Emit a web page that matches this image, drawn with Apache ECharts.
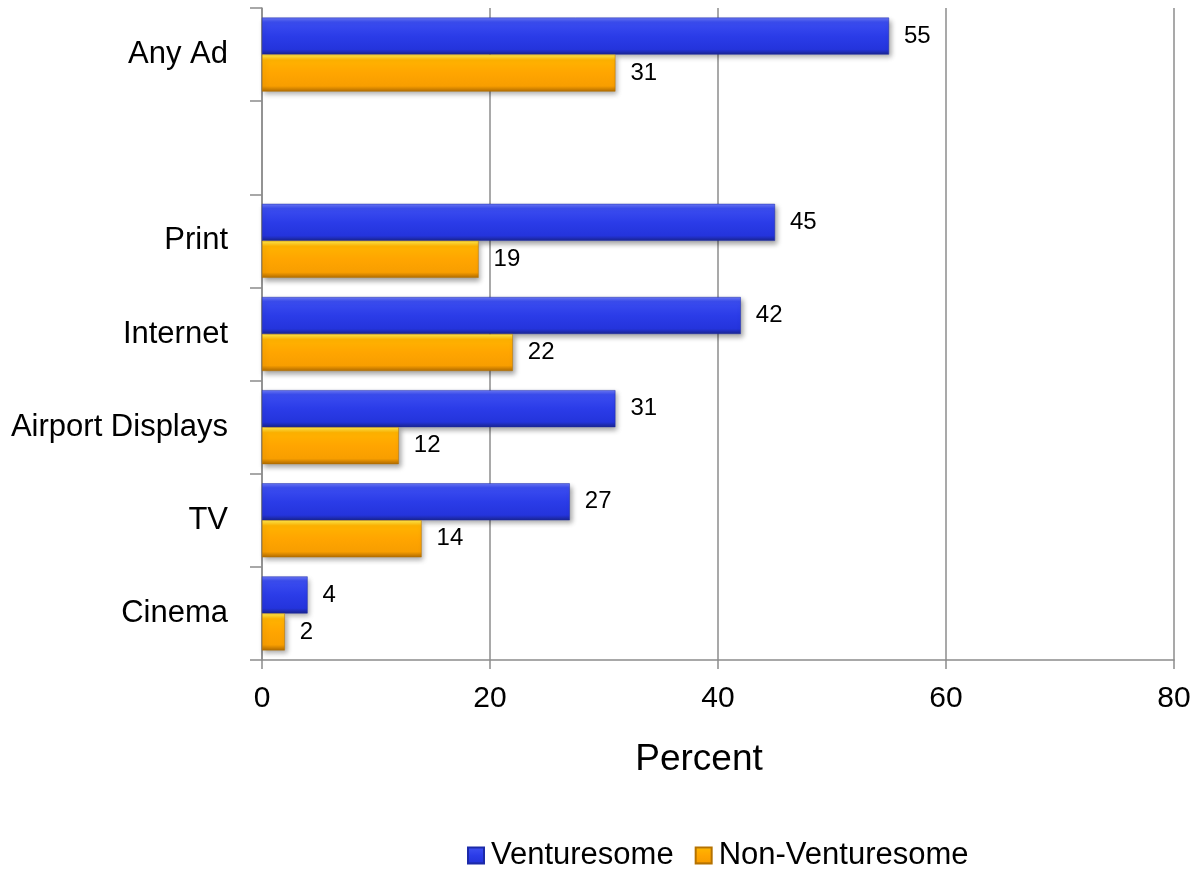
<!DOCTYPE html>
<html>
<head>
<meta charset="utf-8">
<script src="https://cdn.jsdelivr.net/npm/echarts@6/dist/echarts.min.js"></script>
<style>
  html, body { margin: 0; padding: 0; background: #fff; }
  #chart { width: 1196px; height: 869px; }
</style>
</head>
<body>
<div id="chart"></div>
<script>
// Ad media categories (blank row separates the summary from the breakdown)
const categories = ['Any Ad', '', 'Print', 'Internet', 'Airport Displays', 'TV', 'Cinema'];
const venturesome = [55, null, 45, 42, 31, 27, 4];
const nonVenturesome = [31, null, 19, 22, 12, 14, 2];
const xTicks = [0, 20, 40, 60, 80];

const FONT = 'Liberation Sans, Arial, sans-serif';

const chart = echarts.init(document.getElementById('chart'));

function bevel(stops) {
  return new echarts.graphic.LinearGradient(0, 0, 0, 1,
    stops.map(([offset, color]) => ({ offset, color })));
}

const blueFill = bevel([[0, '#6a79f6'], [0.12, '#3b4df0'], [0.5, '#2b3ce8'], [0.86, '#2434dc'], [1, '#1a258f']]);
const orangeFill = bevel([[0, '#ffe94d'], [0.15, '#ffb300'], [0.5, '#ffa500'], [0.85, '#f89e00'], [1, '#b06b00']]);

const shadow = {
  shadowColor: 'rgba(0,0,0,0.35)',
  shadowBlur: 5,
  shadowOffsetX: 2,
  shadowOffsetY: 3
};

const valueLabel = {
  show: true,
  position: 'right',
  distance: 15,
  color: '#000',
  fontFamily: FONT,
  fontSize: 24
};

chart.setOption({
  animation: false,
  backgroundColor: '#fff',
  grid: { left: 262, right: 22, top: 8, bottom: 209, containLabel: false },
  xAxis: {
    type: 'value',
    min: xTicks[0],
    max: xTicks[xTicks.length - 1],
    interval: 20,
    name: 'Percent',
    nameLocation: 'middle',
    nameGap: 81,
    nameTextStyle: { fontFamily: FONT, fontSize: 37, color: '#000', padding: [0, 38, 0, 0] },
    axisLine: { show: true, lineStyle: { color: '#8c8c8c', width: 1.5 } },
    axisTick: { show: true, length: 9, lineStyle: { color: '#8c8c8c', width: 1.5 } },
    axisLabel: { fontFamily: FONT, fontSize: 30, color: '#000', margin: 24 },
    splitLine: { show: true, lineStyle: { color: '#8c8c8c', width: 1.5 } }
  },
  yAxis: {
    type: 'category',
    inverse: true,
    data: categories,
    axisLine: { show: true, lineStyle: { color: '#8c8c8c', width: 1.5 } },
    axisTick: { show: true, length: 12, lineStyle: { color: '#8c8c8c', width: 1.5 } },
    axisLabel: { fontFamily: FONT, fontSize: 31, color: '#000', margin: 34 },
    splitLine: { show: false }
  },
  legend: {
    top: 840,
    left: 467,
    padding: 0,
    itemWidth: 16,
    itemHeight: 16,
    itemGap: 21,
    icon: 'rect',
    textStyle: { fontFamily: FONT, fontSize: 31, color: '#000', padding: [0, 0, 0, 2] },
    data: ['Venturesome', 'Non-Venturesome']
  },
  series: [
    {
      name: 'Venturesome',
      type: 'bar',
      data: venturesome,
      barWidth: 37,
      barGap: '0%',
      itemStyle: Object.assign({ color: blueFill, borderColor: '#1c2aa8', borderWidth: 0.5 }, shadow),
      label: valueLabel
    },
    {
      name: 'Non-Venturesome',
      type: 'bar',
      data: nonVenturesome,
      barWidth: 37,
      barGap: '0%',
      itemStyle: Object.assign({ color: orangeFill, borderColor: '#b57200', borderWidth: 0.5 }, shadow),
      label: valueLabel
    }
  ]
});
</script>
</body>
</html>
